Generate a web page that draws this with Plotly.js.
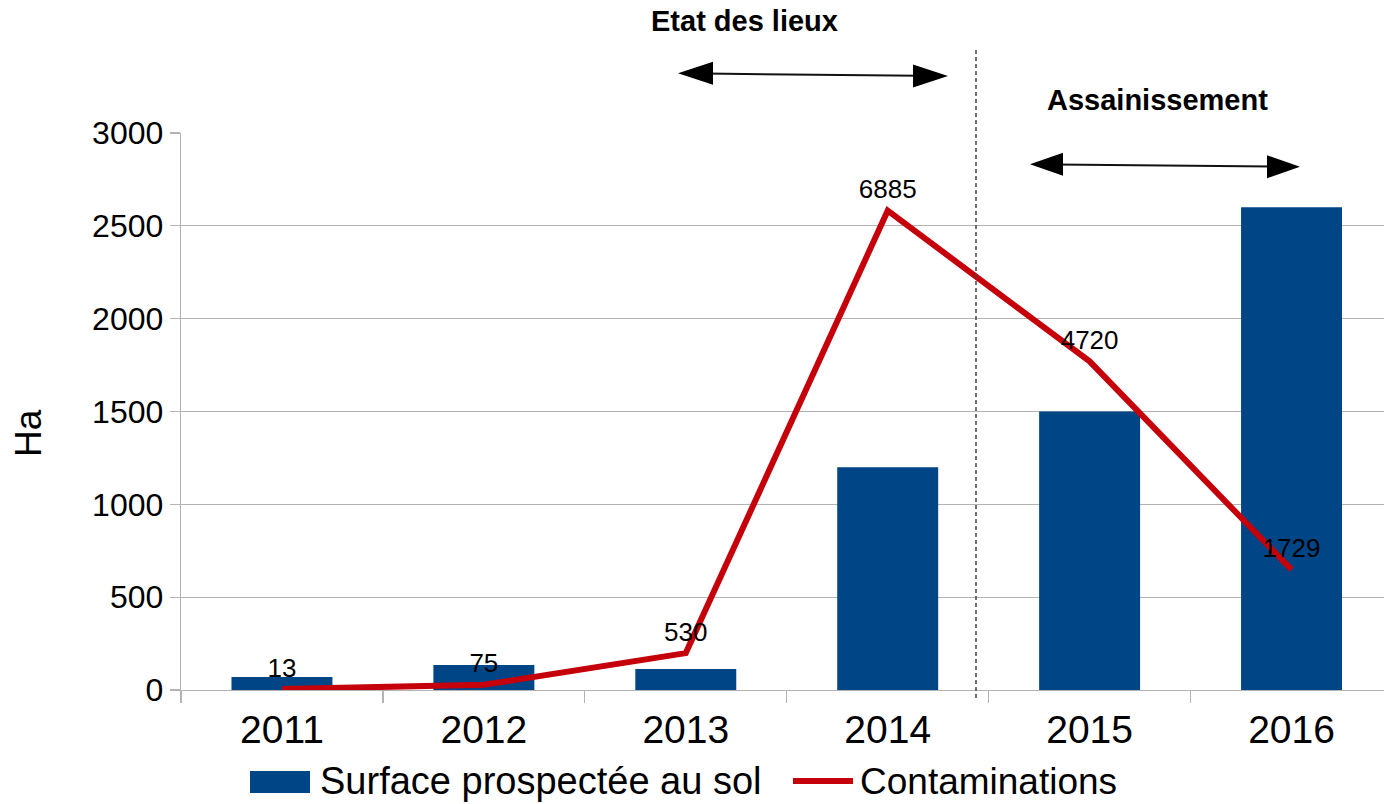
<!DOCTYPE html>
<html>
<head>
<meta charset="utf-8">
<script src="https://cdn.plot.ly/plotly-3.0.1.min.js"></script>
<style>html,body{margin:0;padding:0;background:#fff;}#chart{width:1384px;height:804px;}</style>
</head>
<body>
<div id="chart"></div>
<script>
const years = ['2011', '2012', '2013', '2014', '2015', '2016'];
const surface = [70, 135, 113, 1200, 1500, 2600];
const contaminations = [13, 75, 530, 6885, 4720, 1729];
const seriesNames = ['Surface prospectée au sol', 'Contaminations'];
const phaseLabels = ['Etat des lieux', 'Assainissement'];
const yTitle = 'Ha';

const FONT = 'Liberation Sans, Arial, sans-serif';
const BLUE = '#004586', RED = '#c5000b', GRID = '#b3b3b3';

// plot-area geometry in pixels (for decorations only)
const L = 181, T = 133, W = 1203, H = 557;
const px = x => (x - L) / W;
const py = y => (T + H - y) / H;

function tri(tipX, tipY, baseX, halfH) {
  return 'M' + px(tipX) + ',' + py(tipY) +
         ' L' + px(baseX) + ',' + py(tipY - halfH) +
         ' L' + px(baseX) + ',' + py(tipY + halfH) + ' Z';
}

const traces = [
  {
    type: 'bar', x: years, y: surface, name: seriesNames[0],
    marker: {color: BLUE}, width: 0.5, showlegend: false, hoverinfo: 'x+y'
  },
  {
    type: 'scatter', mode: 'lines+markers+text', x: years, y: contaminations, yaxis: 'y2',
    name: seriesNames[1], line: {color: RED, width: 6},
    marker: {size: 8, opacity: 0, color: RED},
    text: contaminations.map(String), textposition: 'top center',
    textfont: {family: FONT, size: 26, color: '#000'},
    cliponaxis: false, showlegend: false
  }
];

const shapes = [
  // dashed separator
  {type: 'line', xref: 'paper', yref: 'paper', x0: px(976), x1: px(976), y0: py(698), y1: py(47),
   line: {color: '#444', width: 1.5, dash: '4px,3px'}},
  // arrow 1
  {type: 'line', xref: 'paper', yref: 'paper', x0: px(705), y0: py(73.6), x1: px(920), y1: py(75.7),
   line: {color: '#111', width: 2}},
  {type: 'path', xref: 'paper', yref: 'paper', path: tri(678, 73.3, 713, 11.5), fillcolor: '#000', line: {width: 0}},
  {type: 'path', xref: 'paper', yref: 'paper', path: tri(948, 76, 913, 11.5), fillcolor: '#000', line: {width: 0}},
  // arrow 2
  {type: 'line', xref: 'paper', yref: 'paper', x0: px(1055), y0: py(164.5), x1: px(1275), y1: py(166.5),
   line: {color: '#111', width: 2}},
  {type: 'path', xref: 'paper', yref: 'paper', path: tri(1030, 164.3, 1063, 11.5), fillcolor: '#000', line: {width: 0}},
  {type: 'path', xref: 'paper', yref: 'paper', path: tri(1300, 166.7, 1267, 11.5), fillcolor: '#000', line: {width: 0}},
  // legend symbols
  {type: 'rect', xref: 'paper', yref: 'paper', x0: px(250), x1: px(310), y0: py(793), y1: py(771),
   fillcolor: BLUE, line: {width: 0}},
  {type: 'line', xref: 'paper', yref: 'paper', x0: px(793), x1: px(853), y0: py(781), y1: py(781),
   line: {color: RED, width: 6}}
];

const annotations = [
  {xref: 'paper', yref: 'paper', x: px(744), y: py(21), text: '<b>' + phaseLabels[0] + '</b>',
   showarrow: false, font: {family: FONT, size: 29, color: '#000'}, xanchor: 'center', yanchor: 'middle'},
  {xref: 'paper', yref: 'paper', x: px(1157), y: py(100), text: '<b>' + phaseLabels[1] + '</b>',
   showarrow: false, font: {family: FONT, size: 29, color: '#000'}, xanchor: 'center', yanchor: 'middle'},
  {xref: 'paper', yref: 'paper', x: px(28), y: py(433), text: yTitle, textangle: -90,
   showarrow: false, font: {family: FONT, size: 37, color: '#000'}, xanchor: 'center', yanchor: 'middle'},
  {xref: 'paper', yref: 'paper', x: px(318), y: py(781), text: seriesNames[0],
   showarrow: false, font: {family: FONT, size: 38, color: '#000'}, xanchor: 'left', yanchor: 'middle'},
  {xref: 'paper', yref: 'paper', x: px(858), y: py(781), text: seriesNames[1],
   showarrow: false, font: {family: FONT, size: 37, color: '#000'}, xanchor: 'left', yanchor: 'middle'}
];

const layout = {
  width: 1384, height: 804,
  margin: {l: L, r: 1384 - L - W, t: T, b: 804 - T - H, pad: 0},
  paper_bgcolor: '#fff', plot_bgcolor: '#fff',
  font: {family: FONT, color: '#000'},
  showlegend: false,
  bargap: 0.5,
  xaxis: {
    type: 'category', range: [-0.5, 5.458], fixedrange: true,
    showline: true, linecolor: GRID, linewidth: 1.3,
    ticks: 'outside', tickson: 'boundaries', ticklen: 12, tickcolor: GRID, tickwidth: 1.3,
    ticklabelstandoff: 5,
    showgrid: false, zeroline: false,
    tickfont: {family: FONT, size: 39, color: '#000'}
  },
  yaxis: {
    range: [0, 3000], dtick: 500, fixedrange: true,
    showline: true, linecolor: GRID, linewidth: 1.3,
    ticks: 'outside', ticklen: 10, tickcolor: GRID, tickwidth: 1.3,
    showgrid: true, gridcolor: GRID, gridwidth: 1.3, zeroline: false,
    tickfont: {family: FONT, size: 32, color: '#000'}
  },
  yaxis2: {
    overlaying: 'y', range: [0, 8000], visible: false, fixedrange: true
  },
  shapes: shapes,
  annotations: annotations
};

Plotly.newPlot('chart', traces, layout, {displayModeBar: false, staticPlot: true});
</script>
</body>
</html>
